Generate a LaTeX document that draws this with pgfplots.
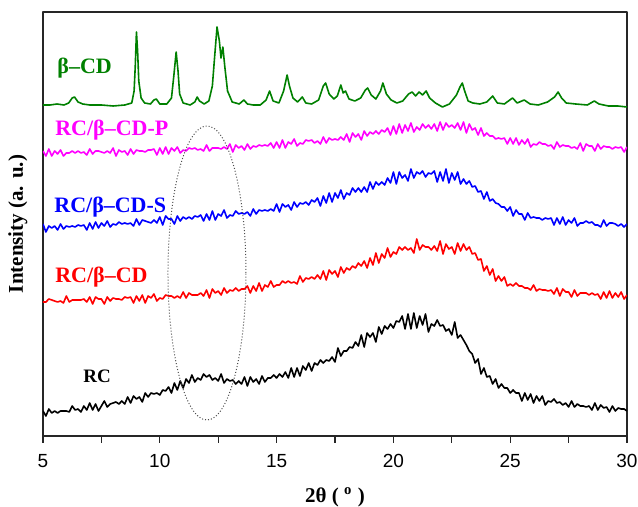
\documentclass[border=0pt]{standalone}
\usepackage{fontspec}
\setmainfont{Liberation Serif}
\newfontfamily\arialfont{Liberation Sans}
\usepackage{pgfplots}
\pgfplotsset{compat=1.18}

\definecolor{cdgreen}{RGB}{0,128,0}
\definecolor{cdmagenta}{RGB}{255,0,255}
\definecolor{cdred}{RGB}{255,0,0}
\definecolor{cdblue}{RGB}{0,0,255}
\tikzset{labnode/.style={anchor=west, inner sep=0pt, font=\bfseries\fontsize{11}{13}\selectfont}}

\begin{document}
\begin{tikzpicture}
\begin{axis}[
    scale only axis,
    width=292pt, height=212pt,
    xmin=5, xmax=30, ymin=0, ymax=424,
    xtick={5,10,...,30},
    minor xtick={7.5,12.5,...,27.5},
    ytick=\empty,
    xtick pos=bottom,
    tick align=outside,
    major tick length=3.5pt, minor tick length=3.5pt,
    axis line style={line width=0.6pt, black!85},
    every tick/.style={black!85, line width=0.6pt},
    /pgf/number format/assume math mode=true,
    xticklabel style={font=\arialfont\fontsize{9.5}{11}\selectfont, yshift=-2pt},
    xlabel={\bfseries 2θ ( \textsuperscript{o} )},
    ylabel={\bfseries Intensity (a. u.)},
    label style={font=\fontsize{10.5}{12}\selectfont},
    xlabel style={at={(axis description cs:0.5,-0.145)}, anchor=center},
    ylabel style={at={(axis description cs:-0.043,0.5)}, anchor=center},
    line join=round,
]

% RC
\addplot[black, line width=0.8pt] coordinates {
(5.000,25) (5.125,20) (5.250,27) (5.375,23) (5.500,25) (5.625,23) (5.750,25) (5.875,25)
(6.000,25) (6.125,24) (6.250,30) (6.375,26) (6.500,27) (6.625,24) (6.750,30) (6.875,26)
(7.000,33) (7.125,26) (7.250,32) (7.375,25) (7.500,30) (7.625,35) (7.750,29) (7.875,32)
(8.000,33) (8.125,34) (8.250,32) (8.375,35) (8.500,32) (8.625,39) (8.750,33) (8.875,40)
(9.000,37) (9.125,39) (9.250,34) (9.375,43) (9.500,39) (9.625,43) (9.750,42) (9.875,43)
(10.000,41) (10.125,46) (10.250,45) (10.375,49) (10.500,43) (10.625,53) (10.750,46) (10.875,55)
(11.000,48) (11.125,57) (11.250,53) (11.375,61) (11.500,54) (11.625,58) (11.750,56) (11.875,62)
(12.000,59) (12.125,61) (12.250,56) (12.375,58) (12.500,55) (12.625,62) (12.750,53) (12.875,57)
(13.000,55) (13.125,56) (13.250,52) (13.375,55) (13.500,52) (13.625,59) (13.750,50) (13.875,59)
(14.000,54) (14.125,57) (14.250,52) (14.375,60) (14.500,54) (14.625,58) (14.750,58) (14.875,61)
(15.000,58) (15.125,62) (15.250,59) (15.375,64) (15.500,58) (15.625,68) (15.750,59) (15.875,68)
(16.000,60) (16.125,70) (16.250,66) (16.375,73) (16.500,65) (16.625,73) (16.750,71) (16.875,76)
(17.000,73) (17.125,76) (17.250,75) (17.375,79) (17.500,74) (17.625,88) (17.750,80) (17.875,85)
(18.000,85) (18.125,89) (18.250,88) (18.375,94) (18.500,90) (18.625,101) (18.750,89) (18.875,103)
(19.000,99) (19.125,103) (19.250,94) (19.375,109) (19.500,102) (19.625,110) (19.750,107) (19.875,112)
(20.000,108) (20.125,115) (20.250,114) (20.375,120) (20.500,107) (20.625,122) (20.750,107) (20.875,123)
(21.000,108) (21.125,120) (21.250,111) (21.375,122) (21.500,104) (21.625,112) (21.750,110) (21.875,116)
(22.000,110) (22.125,111) (22.250,105) (22.375,107) (22.500,101) (22.625,114) (22.750,98) (22.875,101)
(23.000,96) (23.125,91) (23.250,85) (23.375,82) (23.500,73) (23.625,77) (23.750,62) (23.875,68)
(24.000,59) (24.125,60) (24.250,52) (24.375,57) (24.500,48) (24.625,52) (24.750,48) (24.875,48)
(25.000,43) (25.125,46) (25.250,43) (25.375,43) (25.500,35) (25.625,43) (25.750,36) (25.875,42)
(26.000,33) (26.125,40) (26.250,35) (26.375,40) (26.500,31) (26.625,35) (26.750,34) (26.875,37)
(27.000,33) (27.125,34) (27.250,31) (27.375,33) (27.500,29) (27.625,35) (27.750,29) (27.875,32)
(28.000,30) (28.125,30) (28.250,29) (28.375,30) (28.500,26) (28.625,33) (28.750,26) (28.875,31)
(29.000,28) (29.125,29) (29.250,24) (29.375,30) (29.500,25) (29.625,28) (29.750,27) (29.875,27)
(30.000,25)
};

% RC/beta-CD
\addplot[cdred, line width=0.8pt] coordinates {
(5.000,134) (5.125,134) (5.250,137) (5.375,136) (5.500,135) (5.625,134) (5.750,135) (5.875,133)
(6.000,140) (6.125,134) (6.250,136) (6.375,136) (6.500,136) (6.625,136) (6.750,137) (6.875,134)
(7.000,139) (7.125,132) (7.250,139) (7.375,137) (7.500,137) (7.625,132) (7.750,139) (7.875,135)
(8.000,138) (8.125,137) (8.250,137) (8.375,136) (8.500,139) (8.625,138) (8.750,139) (8.875,133)
(9.000,140) (9.125,135) (9.250,141) (9.375,133) (9.500,140) (9.625,138) (9.750,142) (9.875,135)
(10.000,138) (10.125,137) (10.250,141) (10.375,140) (10.500,140) (10.625,138) (10.750,140) (10.875,138)
(11.000,144) (11.125,138) (11.250,143) (11.375,141) (11.500,141) (11.625,141) (11.750,143) (11.875,140)
(12.000,146) (12.125,138) (12.250,147) (12.375,143) (12.500,145) (12.625,141) (12.750,148) (12.875,143)
(13.000,146) (13.125,145) (13.250,148) (13.375,145) (13.500,147) (13.625,147) (13.750,150) (13.875,143)
(14.000,150) (14.125,145) (14.250,153) (14.375,145) (14.500,151) (14.625,149) (14.750,155) (14.875,149)
(15.000,151) (15.125,151) (15.250,155) (15.375,153) (15.500,155) (15.625,153) (15.750,154) (15.875,152)
(16.000,160) (16.125,154) (16.250,158) (16.375,157) (16.500,159) (16.625,157) (16.750,161) (16.875,157)
(17.000,165) (17.125,156) (17.250,166) (17.375,162) (17.500,165) (17.625,159) (17.750,169) (17.875,163)
(18.000,168) (18.125,166) (18.250,170) (18.375,168) (18.500,173) (18.625,170) (18.750,175) (18.875,168)
(19.000,178) (19.125,171) (19.250,183) (19.375,173) (19.500,182) (19.625,178) (19.750,188) (19.875,179)
(20.000,184) (20.125,182) (20.250,189) (20.375,186) (20.500,189) (20.625,186) (20.750,188) (20.875,183)
(21.000,197) (21.125,186) (21.250,191) (21.375,189) (21.500,189) (21.625,186) (21.750,190) (21.875,185)
(22.000,195) (22.125,182) (22.250,192) (22.375,187) (22.500,189) (22.625,182) (22.750,193) (22.875,185)
(23.000,192) (23.125,186) (23.250,189) (23.375,182) (23.500,183) (23.625,176) (23.750,177) (23.875,165)
(24.000,170) (24.125,161) (24.250,167) (24.375,155) (24.500,160) (24.625,155) (24.750,159) (24.875,150)
(25.000,152) (25.125,150) (25.250,153) (25.375,150) (25.500,150) (25.625,148) (25.750,148) (25.875,146)
(26.000,151) (26.125,145) (26.250,147) (26.375,146) (26.500,146) (26.625,145) (26.750,146) (26.875,142)
(27.000,148) (27.125,140) (27.250,147) (27.375,144) (27.500,144) (27.625,139) (27.750,146) (27.875,140)
(28.000,143) (28.125,143) (28.250,143) (28.375,141) (28.500,143) (28.625,141) (28.750,142) (28.875,137)
(29.000,144) (29.125,138) (29.250,145) (29.375,138) (29.500,143) (29.625,139) (29.750,144) (29.875,137)
(30.000,141)
};

% RC/beta-CD-S
\addplot[cdblue, line width=0.8pt] coordinates {
(5.000,212) (5.125,204) (5.250,210) (5.375,208) (5.500,210) (5.625,206) (5.750,212) (5.875,207)
(6.000,210) (6.125,209) (6.250,210) (6.375,209) (6.500,211) (6.625,210) (6.750,211) (6.875,206)
(7.000,213) (7.125,207) (7.250,214) (7.375,208) (7.500,213) (7.625,210) (7.750,215) (7.875,209)
(8.000,212) (8.125,211) (8.250,214) (8.375,212) (8.500,213) (8.625,212) (8.750,213) (8.875,210)
(9.000,217) (9.125,211) (9.250,216) (9.375,215) (9.500,214) (9.625,213) (9.750,216) (9.875,213)
(10.000,219) (10.125,211) (10.250,220) (10.375,217) (10.500,217) (10.625,212) (10.750,220) (10.875,215)
(11.000,219) (11.125,217) (11.250,219) (11.375,217) (11.500,220) (11.625,219) (11.750,221) (11.875,215)
(12.000,222) (12.125,216) (12.250,225) (12.375,216) (12.500,222) (12.625,220) (12.750,226) (12.875,218)
(13.000,221) (13.125,220) (13.250,225) (13.375,222) (13.500,223) (13.625,222) (13.750,224) (13.875,220)
(14.000,227) (14.125,222) (14.250,226) (14.375,225) (14.500,226) (14.625,225) (14.750,227) (14.875,225)
(15.000,232) (15.125,224) (15.250,232) (15.375,229) (15.500,231) (15.625,226) (15.750,234) (15.875,229)
(16.000,233) (16.125,232) (16.250,234) (16.375,231) (16.500,236) (16.625,234) (16.750,238) (16.875,230)
(17.000,240) (17.125,233) (17.250,243) (17.375,234) (17.500,243) (17.625,238) (17.750,246) (17.875,237)
(18.000,243) (18.125,241) (18.250,248) (18.375,244) (18.500,248) (18.625,244) (18.750,249) (18.875,244)
(19.000,254) (19.125,247) (19.250,254) (19.375,251) (19.500,254) (19.625,251) (19.750,258) (19.875,253)
(20.000,264) (20.125,252) (20.250,264) (20.375,258) (20.500,261) (20.625,255) (20.750,267) (20.875,258)
(21.000,264) (21.125,262) (21.250,265) (21.375,259) (21.500,263) (21.625,262) (21.750,265) (21.875,254)
(22.000,264) (22.125,255) (22.250,267) (22.375,253) (22.500,263) (22.625,256) (22.750,264) (22.875,252)
(23.000,257) (23.125,252) (23.250,255) (23.375,249) (23.500,250) (23.625,244) (23.750,245) (23.875,237)
(24.000,244) (24.125,235) (24.250,237) (24.375,233) (24.500,232) (24.625,229) (24.750,229) (24.875,225)
(25.000,229) (25.125,220) (25.250,226) (25.375,222) (25.500,222) (25.625,216) (25.750,223) (25.875,218)
(26.000,219) (26.125,218) (26.250,218) (26.375,216) (26.500,218) (26.625,217) (26.750,218) (26.875,211)
(27.000,218) (27.125,212) (27.250,219) (27.375,211) (27.500,216) (27.625,213) (27.750,218) (27.875,210)
(28.000,213) (28.125,213) (28.250,215) (28.375,213) (28.500,214) (28.625,211) (28.750,211) (28.875,209)
(29.000,216) (29.125,210) (29.250,213) (29.375,213) (29.500,212) (29.625,210) (29.750,212) (29.875,209)
(30.000,212)
};

% RC/beta-CD-P
\addplot[cdmagenta, line width=0.8pt] coordinates {
(5.000,285) (5.125,280) (5.250,287) (5.375,280) (5.500,285) (5.625,282) (5.750,286) (5.875,280)
(6.000,283) (6.125,283) (6.250,285) (6.375,283) (6.500,285) (6.625,283) (6.750,284) (6.875,281)
(7.000,287) (7.125,282) (7.250,285) (7.375,285) (7.500,284) (7.625,283) (7.750,285) (7.875,283)
(8.000,288) (8.125,280) (8.250,286) (8.375,284) (8.500,285) (8.625,281) (8.750,287) (8.875,282)
(9.000,286) (9.125,285) (9.250,285) (9.375,284) (9.500,286) (9.625,286) (9.750,287) (9.875,281)
(10.000,288) (10.125,282) (10.250,289) (10.375,282) (10.500,288) (10.625,285) (10.750,289) (10.875,283)
(11.000,286) (11.125,285) (11.250,288) (11.375,287) (11.500,288) (11.625,286) (11.750,287) (11.875,285)
(12.000,291) (12.125,285) (12.250,288) (12.375,288) (12.500,288) (12.625,287) (12.750,289) (12.875,287)
(13.000,292) (13.125,284) (13.250,291) (13.375,288) (13.500,290) (13.625,286) (13.750,292) (13.875,287)
(14.000,290) (14.125,289) (14.250,291) (14.375,290) (14.500,291) (14.625,290) (14.750,293) (14.875,288)
(15.000,294) (15.125,288) (15.250,296) (15.375,288) (15.500,294) (15.625,292) (15.750,297) (15.875,290)
(16.000,293) (16.125,292) (16.250,296) (16.375,295) (16.500,296) (16.625,293) (16.750,295) (16.875,292)
(17.000,299) (17.125,293) (17.250,298) (17.375,296) (17.500,297) (17.625,296) (17.750,299) (17.875,296)
(18.000,302) (18.125,294) (18.250,303) (18.375,299) (18.500,302) (18.625,296) (18.750,305) (18.875,300)
(19.000,304) (19.125,302) (19.250,305) (19.375,302) (19.500,306) (19.625,304) (19.750,308) (19.875,301)
(20.000,310) (20.125,302) (20.250,312) (20.375,303) (20.500,311) (20.625,305) (20.750,313) (20.875,304)
(21.000,309) (21.125,306) (21.250,312) (21.375,308) (21.500,311) (21.625,307) (21.750,312) (21.875,305)
(22.000,314) (22.125,306) (22.250,313) (22.375,309) (22.500,311) (22.625,308) (22.750,313) (22.875,306)
(23.000,314) (23.125,303) (23.250,312) (23.375,306) (23.500,308) (23.625,301) (23.750,308) (23.875,300)
(24.000,303) (24.125,300) (24.250,300) (24.375,297) (24.500,298) (24.625,297) (24.750,298) (24.875,292)
(25.000,298) (25.125,292) (25.250,298) (25.375,291) (25.500,296) (25.625,292) (25.750,297) (25.875,289)
(26.000,292) (26.125,291) (26.250,294) (26.375,292) (26.500,292) (26.625,290) (26.750,291) (26.875,287)
(27.000,294) (27.125,289) (27.250,291) (27.375,290) (27.500,290) (27.625,288) (27.750,289) (27.875,287)
(28.000,293) (28.125,285) (28.250,292) (28.375,290) (28.500,290) (28.625,285) (28.750,292) (28.875,287)
(29.000,290) (29.125,289) (29.250,289) (29.375,287) (29.500,289) (29.625,288) (29.750,289) (29.875,284)
(30.000,289)
};

% beta-CD
\addplot[cdgreen, line width=0.8pt] coordinates {
(5,331) (5.3,331) (5.6,332) (5.9,331) (6.1,333) (6.25,338) (6.35,339) (6.5,334) (6.7,332)
(7,331) (7.5,331) (8,330) (8.5,331) (8.8,333) (8.9,345) (8.95,370) (9.0,404) (9.05,385)
(9.1,355) (9.2,338) (9.35,333) (9.6,332) (9.75,336) (9.85,337) (10,332) (10.3,332) (10.5,338)
(10.6,360) (10.7,384) (10.78,365) (10.85,342) (11,333) (11.3,331) (11.5,334) (11.6,339)
(11.7,335) (11.9,332) (12.1,335) (12.25,350) (12.35,380) (12.45,409) (12.55,395) (12.62,378)
(12.7,389) (12.78,370) (12.9,345) (13.1,334) (13.4,332) (13.6,336) (13.75,332) (14.0,331)
(14.3,331) (14.55,336) (14.7,345) (14.85,335) (15.1,333) (15.3,345) (15.45,361) (15.55,350)
(15.7,338) (15.9,334) (16.1,339) (16.25,333) (16.5,332) (16.8,336) (17.0,350) (17.1,353)
(17.25,342) (17.45,337) (17.6,340) (17.75,351) (17.85,343) (17.95,345) (18.1,337) (18.35,335)
(18.6,338) (18.8,346) (18.9,348) (19.05,341) (19.25,337) (19.45,345) (19.55,353) (19.7,342)
(19.9,336) (20.15,333) (20.4,335) (20.65,342) (20.8,344) (20.95,340) (21.1,344) (21.25,341)
(21.4,345) (21.55,338) (21.8,333) (22.1,329) (22.4,332) (22.7,341) (22.85,349) (22.95,353)
(23.05,345) (23.2,335) (23.4,333) (23.7,332) (24.0,334) (24.25,340) (24.45,333) (24.75,332)
(25.1,338) (25.3,333) (25.6,336) (25.85,332) (26.2,331) (26.6,334) (26.9,339) (27.05,344)
(27.2,338) (27.4,333) (27.8,332) (28.3,331) (28.6,335) (28.8,332) (29.2,330) (29.6,330) (30,329)
};

% labels
\node[labnode, text=cdgreen] at (axis cs:5.6,368) {β–CD};
\node[labnode, text=cdmagenta] at (axis cs:5.51,306) {RC/β–CD-P};
\node[labnode, text=cdblue] at (axis cs:5.47,229) {RC/β–CD-S};
\node[labnode, text=cdred] at (axis cs:5.51,159) {RC/β–CD};
\node[labnode, text=black, font=\bfseries\fontsize{9.5}{11}\selectfont] at (axis cs:6.71,60) {RC};

% dotted ellipse
\draw[densely dotted, black!70, line width=0.5pt] (axis cs:12.02,163) ellipse [x radius=19.5pt, y radius=73.5pt];
\end{axis}
\pgfresetboundingbox
\useasboundingbox ([xshift=-21.5pt,yshift=-35.5pt]current axis.south west) rectangle ([xshift=5.5pt,yshift=6pt]current axis.north east);
\end{tikzpicture}
\end{document}
